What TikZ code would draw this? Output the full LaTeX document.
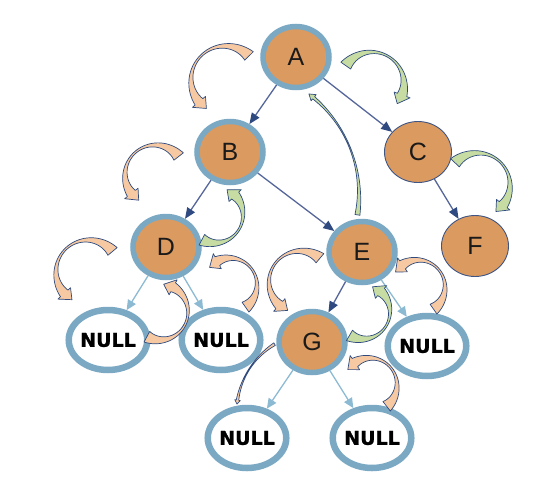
\documentclass[tikz,border=0pt]{standalone}
\usepackage{fontspec}
\setmainfont{Liberation Sans}
\newfontfamily\dvsans[FakeBold=1.3]{DejaVu Sans}
\usetikzlibrary{shapes.geometric,arrows.meta}
\definecolor{nodeor}{HTML}{DB9A5F}
\definecolor{ringb}{HTML}{7BA9C4}
\definecolor{edged}{HTML}{55669A}
\definecolor{edgenavy}{HTML}{2F4A80}
\definecolor{edgel}{HTML}{8DBAD3}
\definecolor{arcline}{HTML}{2E4A7E}
\definecolor{peach}{HTML}{F6C9A2}
\definecolor{leaf}{HTML}{C6DCA2}
\definecolor{cborder}{HTML}{3F5584}
\definecolor{txt}{HTML}{1A1A1A}
\def\hw{3.5}\def\hl{10}
\newcommand{\barc}[9]{%
  \def\wS{(#6*(1-\x)*(1-2*\x)+4*#7*\x*(1-\x)+#8*\x*(2*\x-1))}%
  \def\wR{(#6*\x*(2*\x-1)+4*#7*\x*(1-\x)+#8*(1-\x)*(1-2*\x))}%
  \def\aS{(#4+(#5-#4)*\x)}%
  \def\aR{(#4+(#5-#4)*(1-\x))}%
  \pgfmathsetmacro{\dd}{(#5>#4) ? 1 : -1}%
  \pgfmathsetmacro{\tipa}{#5+\dd*\hl/#3*57.2958}%
  \pgfmathsetmacro{\ro}{#3+#8/2+\hw}%
  \pgfmathsetmacro{\ri}{#3-#8/2-\hw}%
  \filldraw[fill=#9, draw=arcline, line width=0.7pt, line join=round]
    plot[domain=0:1, samples=40] ({#1+(#3+\wS/2)*cos(\aS)}, {#2+(#3+\wS/2)*sin(\aS)})
    -- ({#1+\ro*cos(#5)},{#2+\ro*sin(#5)})
    -- ({#1+#3*cos(\tipa)},{#2+#3*sin(\tipa)})
    -- ({#1+\ri*cos(#5)},{#2+\ri*sin(#5)})
    -- plot[domain=0:1, samples=40] ({#1+(#3-\wR/2)*cos(\aR)}, {#2+(#3-\wR/2)*sin(\aR)})
    -- cycle;
}
\begin{document}
\begin{tikzpicture}[x=1pt,y=-1pt,
  inner/.style={ellipse, fill=nodeor, draw=ringb, line width=5.5pt,
    minimum width=66pt, minimum height=61pt, inner sep=0pt, text=txt,
    font=\fontsize{25}{25}\selectfont},
  cnode/.style={ellipse, fill=nodeor, draw=cborder, line width=0.9pt,
    minimum width=67pt, minimum height=61pt, inner sep=0pt, text=txt,
    font=\fontsize{25}{25}\selectfont},
  nullnode/.style={ellipse, fill=white, draw=ringb, line width=6.5pt,
    minimum width=63pt, minimum height=60pt, inner sep=0pt, text=black,
    font=\dvsans\bfseries\fontsize{19}{19}\selectfont},
  dedge/.style={draw=edged, line width=1.3pt, -{Triangle[length=11pt,width=9pt,color=edgenavy]}},
  ledge/.style={draw=edgel, line width=1.3pt, -{Triangle[length=10pt,width=9pt]}}]
\useasboundingbox (0,0) rectangle (543,498);
\node[inner] (A) at (296,57) {A};
\node[inner] (B) at (230,152) {B};
\node[cnode] (C) at (418,152) {C};
\node[inner] (D) at (166,247) {D};
\node[inner] (E) at (362,252) {E};
\node[cnode] (F) at (475,246) {F};
\node[inner] (G) at (312,342) {G};
\node[nullnode] (N1) at (108,340) {NULL};
\node[nullnode] (N2) at (221,340) {NULL};
\node[nullnode] (N3) at (427,346) {NULL};
\node[nullnode] (N4) at (247,438) {NULL};
\node[nullnode] (N5) at (372,438) {NULL};
\draw[dedge] (A) -- (B);
\draw[dedge] (A) -- (C);
\draw[dedge] (B) -- (D);
\draw[dedge] (B) -- (E);
\draw[dedge] (C) -- (F);
\draw[dedge] (E) -- (G);
\draw[ledge] (D) -- (N1);
\draw[ledge] (D) -- (N2);
\draw[ledge] (E) -- (N3);
\draw[ledge] (G) -- (N4);
\draw[ledge] (G) -- (N5);
\barc{225}{80}{34}{-45}{-220}{12}{2}{10}{peach}
\barc{372}{84}{32}{-145}{20}{12}{2}{10}{leaf}
\barc{155}{175}{30}{-38}{-218}{12}{2}{10}{peach}
\barc{215}{215}{28}{118}{-44}{12}{2}{10}{leaf}
\barc{88}{272}{32}{-40}{-222}{12}{2}{10}{peach}
\barc{160}{312}{28}{118}{-62}{12}{2}{10}{peach}
\barc{230}{285}{27}{55}{-118}{12}{2}{10}{peach}
\barc{300}{282}{31}{-50}{-228}{12}{2}{10}{peach}
\barc{363}{312}{27}{120}{-48}{12}{2}{10}{leaf}
\barc{418}{287}{27}{55}{-125}{12}{2}{10}{peach}
\barc{478}{185}{32}{-136}{38}{12}{2}{10}{leaf}
\barc{370}{385}{27}{52}{-124}{12}{2}{10}{peach}
\begingroup
\def\hw{2.5}\def\hl{6}
\barc{232}{195}{127}{9}{-50}{5}{1.2}{3}{leaf}
\def\hw{1.5}\def\hl{4}
\barc{317.5}{412.8}{81}{238}{189}{3}{1}{2.5}{peach}
\endgroup
\end{tikzpicture}
\end{document}
